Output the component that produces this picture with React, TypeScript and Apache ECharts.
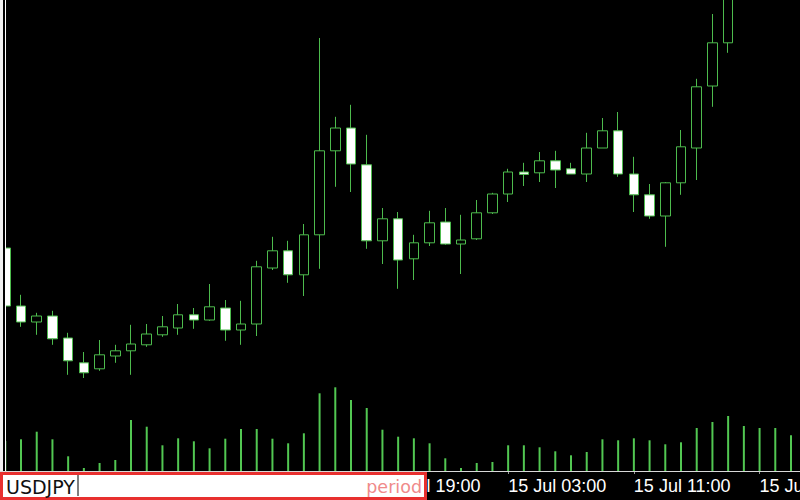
import React, { useEffect, useRef } from "react";
import * as echarts from "echarts";

const categories = [
  "13 Jul 19:00", "13 Jul 20:00", "13 Jul 21:00", "13 Jul 22:00", "13 Jul 23:00",
  "14 Jul 00:00", "14 Jul 01:00", "14 Jul 02:00", "14 Jul 03:00", "14 Jul 04:00",
  "14 Jul 05:00", "14 Jul 06:00", "14 Jul 07:00", "14 Jul 08:00", "14 Jul 09:00",
  "14 Jul 10:00", "14 Jul 11:00", "14 Jul 12:00", "14 Jul 13:00", "14 Jul 14:00",
  "14 Jul 15:00", "14 Jul 16:00", "14 Jul 17:00", "14 Jul 18:00", "14 Jul 19:00",
  "14 Jul 20:00", "14 Jul 21:00", "14 Jul 22:00", "14 Jul 23:00", "15 Jul 00:00",
  "15 Jul 01:00", "15 Jul 02:00", "15 Jul 03:00", "15 Jul 04:00", "15 Jul 05:00",
  "15 Jul 06:00", "15 Jul 07:00", "15 Jul 08:00", "15 Jul 09:00", "15 Jul 10:00",
  "15 Jul 11:00", "15 Jul 12:00", "15 Jul 13:00", "15 Jul 14:00", "15 Jul 15:00",
  "15 Jul 16:00", "15 Jul 17:00", "15 Jul 18:00", "15 Jul 19:00", "15 Jul 20:00",
  "15 Jul 21:00",
];

const opens = [
  157.880, 157.735, 157.695, 157.710, 157.655, 157.593, 157.578, 157.610, 157.623, 157.638,
  157.663, 157.680, 157.713, 157.700, 157.730, 157.675, 157.690, 157.830, 157.873, 157.813,
  157.913, 158.123, 158.180, 158.088, 157.898, 157.953, 157.853, 157.893, 157.945, 157.890,
  157.903, 157.968, 158.015, 158.070, 158.068, 158.098, 158.078, 158.065, 158.130, 158.173,
  158.065, 158.013, 157.960, 158.043, 158.130, 158.285, 158.393, 158.530, 158.585, 158.640,
  158.610,
];
const closes = [
  157.735, 157.695, 157.710, 157.653, 157.598, 157.568, 157.613, 157.623, 157.640, 157.665,
  157.683, 157.713, 157.700, 157.733, 157.675, 157.690, 157.833, 157.873, 157.813, 157.913,
  158.123, 158.180, 158.090, 157.898, 157.953, 157.850, 157.893, 157.943, 157.890, 157.900,
  157.968, 158.015, 158.070, 158.064, 158.098, 158.075, 158.065, 158.130, 158.173, 158.065,
  158.013, 157.960, 158.043, 158.133, 158.283, 158.393, 158.530, 158.585, 158.640, 158.610,
  158.650,
];
const lows = [
  157.730, 157.683, 157.663, 157.638, 157.563, 157.555, 157.573, 157.593, 157.563, 157.633,
  157.658, 157.663, 157.678, 157.698, 157.648, 157.638, 157.660, 157.825, 157.793, 157.760,
  157.828, 158.033, 158.020, 157.878, 157.840, 157.778, 157.800, 157.885, 157.888, 157.815,
  157.900, 157.965, 157.995, 158.035, 158.045, 158.030, 158.065, 158.045, 158.130, 158.058,
  157.970, 157.953, 157.883, 158.013, 158.050, 158.233, 158.368, 158.515, 158.560, 158.590,
  158.595,
];
const highs = [
  157.885, 157.763, 157.718, 157.723, 157.668, 157.620, 157.650, 157.638, 157.688, 157.690,
  157.710, 157.740, 157.730, 157.790, 157.750, 157.748, 157.848, 157.908, 157.898, 157.940,
  158.405, 158.208, 158.238, 158.163, 157.980, 157.970, 157.913, 157.973, 157.980, 157.963,
  158.000, 158.018, 158.078, 158.093, 158.120, 158.123, 158.093, 158.168, 158.205, 158.220,
  158.108, 158.040, 158.045, 158.175, 158.303, 158.465, 158.563, 158.610, 158.660, 158.680,
  158.670,
];
const volumes = [
  300, 317, 393, 317, 147, 30, 80, 110, 510, 443,
  257, 327, 297, 227, 323, 420, 420, 323, 277, 377,
  777, 837, 710, 630, 413, 343, 327, 277, 127, 30,
  80, 90, 257, 257, 237, 197, 157, 190, 317, 307,
  327, 307, 267, 287, 430, 490, 550, 450, 430, 430,
  357,
];

const symbolText = "USDJPY";
const periodPlaceholder = "period";

const GREEN = "#4dbb4d";
const VOL_GREEN = "#52c852";
const FONT = "DejaVu Sans";
const AXIS_FONT = "Liberation Sans";

export default function App() {
  const ref = useRef<HTMLDivElement>(null);

  useEffect(() => {
    if (!ref.current) return;
    const chart = echarts.init(ref.current, null, { renderer: "svg" });
    const candleData = opens.map((o, i) => [o, closes[i], lows[i], highs[i]]);
    const GL = 5.3;
    const GW = 785.7;
    const labelShown = (idx: number) => idx % 8 === 0 && idx >= 24;
    chart.setOption({
      animation: false,
      backgroundColor: "#000",
      grid: [
        { left: GL, top: 0, width: GW, height: 471, containLabel: false, outerBoundsMode: "none" },
        { left: GL, top: 371, width: GW, height: 100, containLabel: false, outerBoundsMode: "none" },
      ],
      xAxis: [
        {
          type: "category",
          gridIndex: 0,
          data: categories,
          boundaryGap: false,
          axisLine: { show: false },
          axisTick: {
            show: true,
            interval: (idx: number) => idx % 8 === 0,
            length: 3,
            lineStyle: { color: "#999", width: 1 },
          },
          axisLabel: {
            show: true,
            interval: labelShown,
            align: "left",
            margin: 6,
            color: "#fff",
            fontFamily: AXIS_FONT,
            fontSize: 18,
            hideOverlap: false,
          },
          splitLine: { show: false },
        },
        {
          type: "category",
          gridIndex: 1,
          data: categories,
          boundaryGap: false,
          show: false,
        },
      ],
      yAxis: [
        {
          type: "value",
          gridIndex: 0,
          min: 157.3225,
          max: 158.5,
          show: false,
          splitLine: { show: false },
        },
        {
          type: "value",
          gridIndex: 1,
          min: 0,
          max: 1000,
          show: false,
          splitLine: { show: false },
        },
      ],
      series: [
        {
          type: "bar",
          xAxisIndex: 1,
          yAxisIndex: 1,
          data: volumes,
          barWidth: 2,
          clip: false,
          itemStyle: { color: VOL_GREEN },
          z: 1,
        },
        {
          type: "candlestick",
          xAxisIndex: 0,
          yAxisIndex: 0,
          data: candleData,
          barWidth: 10,
          itemStyle: {
            color: "#000",
            color0: "#fff",
            borderColor: GREEN,
            borderColor0: GREEN,
            borderWidth: 1,
          },
          z: 3,
        },
      ],
      graphic: [
        { type: "rect", z: 100, shape: { x: 0, y: 0, width: 3, height: 472 }, style: { fill: "#f0f0f0" } },
        { type: "rect", z: 100, shape: { x: 3, y: 0, width: 2, height: 472 }, style: { fill: "#000" } },
        { type: "rect", z: 100, shape: { x: 5, y: 0, width: 1, height: 472 }, style: { fill: "#ffffff" } },
        { type: "line", z: 100, shape: { x1: 0, y1: 471.5, x2: 800, y2: 471.5 }, style: { stroke: "#d8d8d8", lineWidth: 1 } },
        {
          type: "rect",
          z: 110,
          shape: { x: 1.5, y: 473.5, width: 424, height: 25 },
          style: { fill: "#fff", stroke: "#e8302f", lineWidth: 3 },
        },
        {
          type: "text",
          z: 111,
          x: 6,
          y: 487,
          style: { text: symbolText, fill: "#111", fontFamily: FONT, fontSize: 19, verticalAlign: "middle", align: "left" },
        },
        { type: "rect", z: 111, shape: { x: 77.5, y: 475, width: 1, height: 21 }, style: { fill: "#000" } },
        {
          type: "text",
          z: 111,
          x: 422,
          y: 487,
          style: { text: periodPlaceholder, fill: "#f08a8a", fontFamily: FONT, fontSize: 17.5, verticalAlign: "middle", align: "right" },
        },
      ],
    });
    return () => chart.dispose();
  }, []);

  return (
    <div
      ref={ref}
      style={{ position: "fixed", left: 0, top: 0, width: 800, height: 500 }}
    />
  );
}
